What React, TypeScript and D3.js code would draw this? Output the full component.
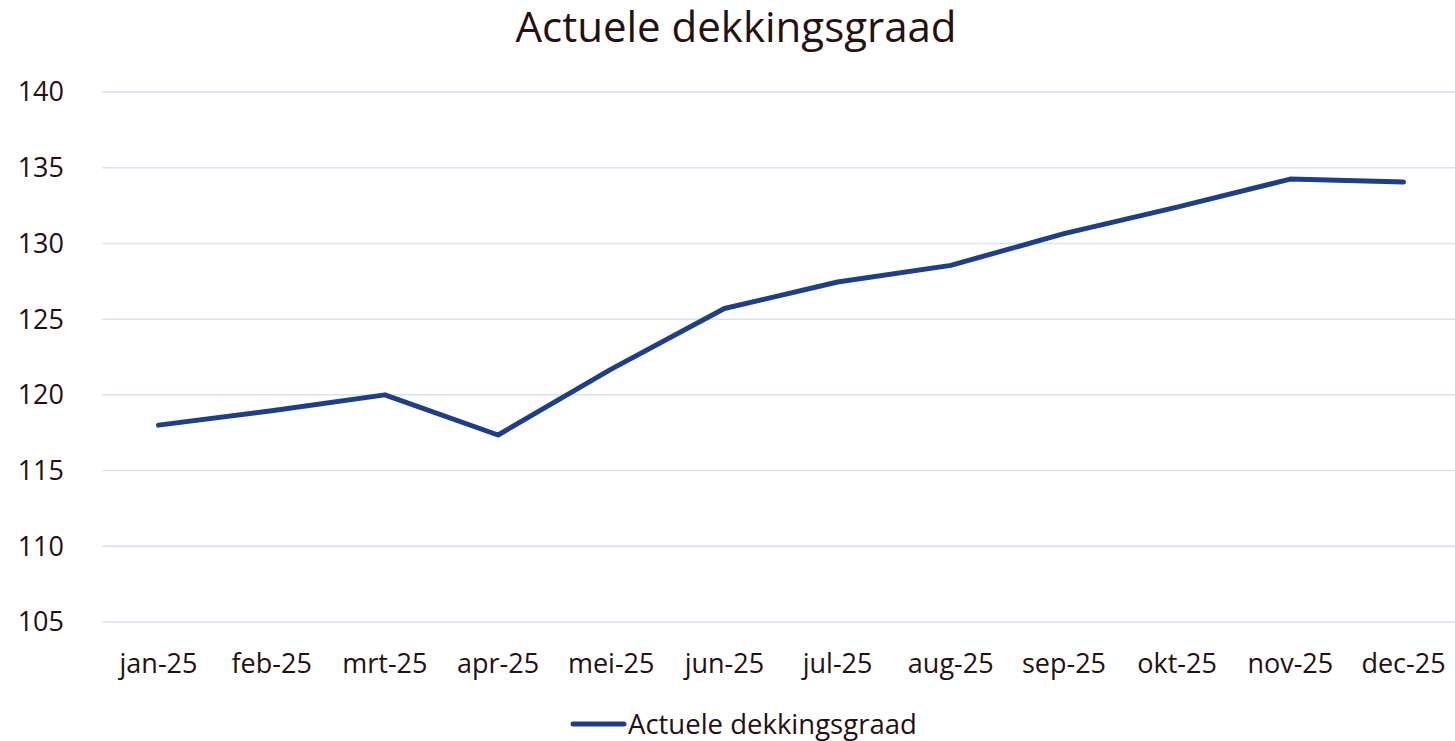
import React from 'react';
import * as d3 from 'd3';

const months = ['jan-25', 'feb-25', 'mrt-25', 'apr-25', 'mei-25', 'jun-25', 'jul-25', 'aug-25', 'sep-25', 'okt-25', 'nov-25', 'dec-25'];
const dekkingsgraad = [118.0, 118.95, 120.0, 117.35, 121.7, 125.7, 127.45, 128.55, 130.65, 132.4, 134.25, 134.05];
const yTicks = [105, 110, 115, 120, 125, 130, 135, 140];
const seriesName = 'Actuele dekkingsgraad';
const title = 'Actuele dekkingsgraad';

const W = 1455;
const H = 741;
const FONT = '"Open Sans", sans-serif';
const TEXT = '#261010';
const LINE = '#1f3e88';

export default function App() {
  const x = d3.scalePoint<string>().domain(months).range([158.5, 1403.5]);
  const y = d3.scaleLinear().domain([105, 140]).range([622, 92]);

  const line = d3.line<number>()
    .x((_, i) => x(months[i]) as number)
    .y(d => y(d));

  return (
    <svg width={W} height={H} style={{ position: 'absolute', left: 0, top: 0, background: '#fff' }} fontFamily={FONT}>
      <text x={736} y={42} textAnchor="middle" fontSize={42} fill={TEXT}>{title}</text>

      {/* gridlines */}
      <g>
        {yTicks.map(t => (
          <line key={t} x1={102} x2={W} y1={y(t)} y2={y(t)} stroke="#d9e1f2" strokeWidth={1.5} />
        ))}
      </g>

      {/* y labels */}
      <g>
        {yTicks.map(t => (
          <text key={t} x={64} y={y(t)} dy="0.35em" textAnchor="end" fontSize={27} fill={TEXT}>{t}</text>
        ))}
      </g>

      {/* x labels */}
      <g>
        {months.map(m => (
          <text key={m} x={x(m)} y={673} textAnchor="middle" fontSize={27} fill={TEXT}>{m}</text>
        ))}
      </g>

      <path d={line(dekkingsgraad) ?? ''} fill="none" stroke={LINE} strokeWidth={5} strokeLinecap="round" strokeLinejoin="round" />

      {/* legend */}
      <line x1={573} x2={624} y1={724} y2={724} stroke={LINE} strokeWidth={5} strokeLinecap="round" />
      <text x={628} y={734} fontSize={27.5} fill={TEXT}>{seriesName}</text>
    </svg>
  );
}
